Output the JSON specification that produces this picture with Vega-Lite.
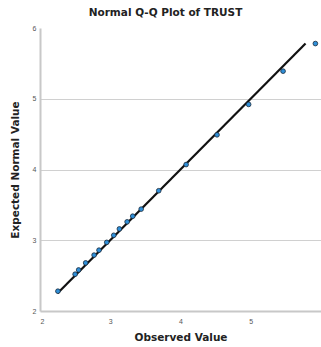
{
  "$schema": "https://vega.github.io/schema/vega-lite/v6.json",
  "autosize": "none",
  "width": 281,
  "height": 283,
  "padding": {"left": 40, "top": 28, "right": 0, "bottom": 36},
  "background": "white",
  "title": {"text": "Normal Q-Q Plot of TRUST", "fontSize": 10.5, "font": "DejaVu Sans", "fontWeight": "bold", "color": "#222", "anchor": "middle", "frame": "group", "dx": -15, "offset": 6},
  "config": {"view": {"stroke": null}},
  "layer": [
    {
      "data": {"values": [{"x": 2.25, "y": 2.25}, {"x": 5.78, "y": 5.78}]},
      "mark": {"type": "line", "color": "#111", "strokeWidth": 2.2},
      "encoding": {
        "x": {"field": "x", "type": "quantitative", "scale": {"domain": [2, 6], "nice": false, "zero": false},
          "axis": {"title": "Observed Value", "values": [2, 3, 4, 5], "format": "d", "grid": false, "domainColor": "#c8c8c8", "domainWidth": 2, "ticks": false, "labelFontSize": 7, "labelColor": "#555", "labelPadding": 6, "titleFont": "DejaVu Sans", "titleFontSize": 10.5, "titleFontWeight": "bold", "titleColor": "#222", "titlePadding": 8}},
        "y": {"field": "y", "type": "quantitative", "scale": {"domain": [2, 6], "nice": false, "zero": false},
          "axis": {"title": "Expected Normal Value", "values": [2, 3, 4, 5, 6], "format": "d", "grid": true, "gridColor": "#d0d0d0", "gridWidth": 1, "gridOpacity": {"expr": "datum.value == 6 || datum.value == 2 ? 0 : 1"}, "domainColor": "#c8c8c8", "domainWidth": 2, "ticks": false, "labelFontSize": 7, "labelColor": "#555", "labelPadding": 4, "titleFont": "DejaVu Sans", "titleFontSize": 10.5, "titleFontWeight": "bold", "titleColor": "#222", "titlePadding": 12}}
      }
    },
    {
      "data": {"values": [
        {"x": 2.255, "y": 2.28},
        {"x": 2.50, "y": 2.52},
        {"x": 2.55, "y": 2.58},
        {"x": 2.65, "y": 2.68},
        {"x": 2.77, "y": 2.79},
        {"x": 2.84, "y": 2.86},
        {"x": 2.95, "y": 2.97},
        {"x": 3.05, "y": 3.07},
        {"x": 3.13, "y": 3.16},
        {"x": 3.24, "y": 3.26},
        {"x": 3.32, "y": 3.34},
        {"x": 3.44, "y": 3.44},
        {"x": 3.69, "y": 3.70},
        {"x": 4.08, "y": 4.07},
        {"x": 4.52, "y": 4.49},
        {"x": 4.97, "y": 4.92},
        {"x": 5.46, "y": 5.39},
        {"x": 5.92, "y": 5.78}
      ]},
      "mark": {"type": "point", "filled": true, "fill": "#2f8fd8", "stroke": "#1a2a3a", "strokeWidth": 0.8, "size": 22, "opacity": 1},
      "encoding": {
        "x": {"field": "x", "type": "quantitative"},
        "y": {"field": "y", "type": "quantitative"}
      }
    }
  ]
}
